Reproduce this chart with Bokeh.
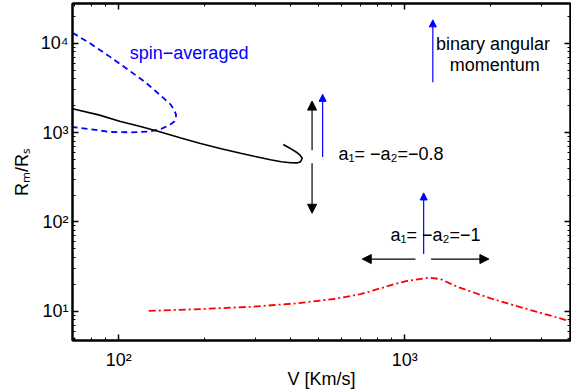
from bokeh.plotting import figure
from bokeh.models import Range1d, LogAxis, FixedTicker, Arrow, NormalHead, Label
from bokeh.embed import file_html
from bokeh.resources import INLINE

# ---- data (V in km/s, Rm/Rs) ----
solid_v = [68.9, 85.0, 101.4, 120.0, 139.9, 165.0, 193.0, 228.0, 266.6, 300.0, 339.0, 370.0, 398.0, 420.0, 432.0, 438.0, 430.0, 418.0, 398.0, 376.0]
solid_r = [1854, 1580, 1334, 1160, 1016, 870, 754, 660, 587, 540, 497, 472, 460, 458, 472, 516, 560, 603, 665, 735]

spin_v = [68.9, 79.6, 93.5, 109.9, 124.0, 139.9, 151.7, 156.0, 158.5, 158.5, 156.5, 151.7, 145.0, 139.9, 129.1, 117.0, 109.9, 93.5, 79.6, 68.9]
spin_r = [13100, 9950, 7000, 4840, 3650, 2610, 2070, 1800, 1600, 1445, 1330, 1240, 1150, 1089, 1034, 1012, 1008, 1016, 1089, 1155]

red_v = [127.3, 198.0, 296.5, 420.6, 565.0, 700.0, 822.0, 916.0, 1019.0, 1213.0, 1333.0, 1525.0, 1994.0, 2608.0, 3319.0, 3796.0]
red_r = [10.08, 10.6, 11.25, 12.28, 13.7, 15.5, 18.07, 20.0, 21.8, 23.7, 22.9, 18.8, 13.95, 10.8, 8.71, 7.7]

x_major = [100, 1000]
y_major = [10, 100, 1000, 10000]
x_labels = {100: "10²", 1000: "10³"}
y_labels = {10: "10¹", 100: "10²", 1000: "10³", 10000: "10⁴"}

# arrows: (x_start, y_start, x_end, y_end)
black_arrows = [(474, 634, 474, 2255), (474, 454, 474, 125),
                (1090, 38.4, 710, 38.4), (1236, 38.4, 1968, 38.4)]
blue_arrows = [(516, 533, 516, 2680), (1164, 43.7, 1164, 211), (1253, 3671, 1253, 18300)]

FONT = "Liberation Sans"

p = figure(width=571, height=392, x_axis_type="log", y_axis_type="log",
           x_range=Range1d(68.9, 3796), y_range=Range1d(4.7, 27900),
           output_backend="svg", toolbar_location=None,
           min_border_left=72, min_border_right=1, min_border_top=3, min_border_bottom=52)
p.grid.visible = False
p.outline_line_color = "black"
p.outline_line_width = 2

x_minor = [m * 10 ** e for e in (1, 2, 3) for m in range(2, 10)]
y_minor = [m * 10 ** e for e in (0, 1, 2, 3, 4) for m in range(2, 10)]
xt = FixedTicker(ticks=x_major, minor_ticks=x_minor)
yt = FixedTicker(ticks=y_major, minor_ticks=y_minor)


def style(ax):
    ax.axis_line_width = 2
    ax.major_tick_in = 6
    ax.major_tick_out = 0
    ax.minor_tick_in = 3
    ax.minor_tick_out = 0
    ax.major_tick_line_width = 1.5
    ax.minor_tick_line_width = 1
    ax.major_label_text_font = FONT
    ax.major_label_text_font_size = "18px"
    ax.major_label_text_color = "black"
    ax.axis_label_text_font = FONT
    ax.axis_label_text_font_size = "18px"
    ax.axis_label_text_font_style = "normal"
    ax.axis_label_text_color = "black"


xa = p.xaxis[0]
xa.ticker = xt
xa.major_label_overrides = x_labels
xa.axis_label = "V [Km/s]"
style(xa)
xa.major_label_standoff = 9
xa.axis_label_standoff = -4

ya = p.yaxis[0]
ya.ticker = yt
ya.major_label_overrides = y_labels
ya.axis_label = "Rₘ/Rₛ"
style(ya)
ya.major_label_standoff = 4
ya.axis_label_standoff = 6

for loc, tk, ticks in (("right", yt, y_major), ("above", xt, x_major)):
    ax = LogAxis(ticker=tk)
    style(ax)
    ax.major_label_overrides = {t: "" for t in ticks}
    ax.major_label_standoff = 0
    p.add_layout(ax, loc)

# curves
p.line(spin_v, spin_r, line_color="#0000ff", line_width=1.8, line_dash="6 4")
p.line(solid_v, solid_r, line_color="black", line_width=1.6)
p.line(red_v, red_r, line_color="#ff0000", line_width=1.8, line_dash="7 3 2 3")

for xs, ys, xe, ye in black_arrows:
    p.add_layout(Arrow(end=NormalHead(size=9, fill_color="black", line_color="black"),
                       x_start=xs, y_start=ys, x_end=xe, y_end=ye,
                       line_color="black", line_width=1.2))
for xs, ys, xe, ye in blue_arrows:
    p.add_layout(Arrow(end=NormalHead(size=7, fill_color="#0000ff", line_color="#0000ff"),
                       x_start=xs, y_start=ys, x_end=xe, y_end=ye,
                       line_color="#0000ff", line_width=1.2))

labels = [
    ("spin−averaged", 109.3, 7690, "#0000ff"),
    ("a₁= −a₂=−0.8", 586, 571, "black"),
    ("a₁= −a₂=−1", 891, 71.3, "black"),
    ("binary angular", 1285, 9860, "black"),
    ("momentum", 1436, 5650, "black"),
]
for txt, x, y, col in labels:
    p.add_layout(Label(x=x, y=y, text=txt, text_font=FONT, text_font_size="18px",
                       text_color=col, text_align="left", text_baseline="middle"))

open("out.html", "w").write(file_html(p, INLINE))
